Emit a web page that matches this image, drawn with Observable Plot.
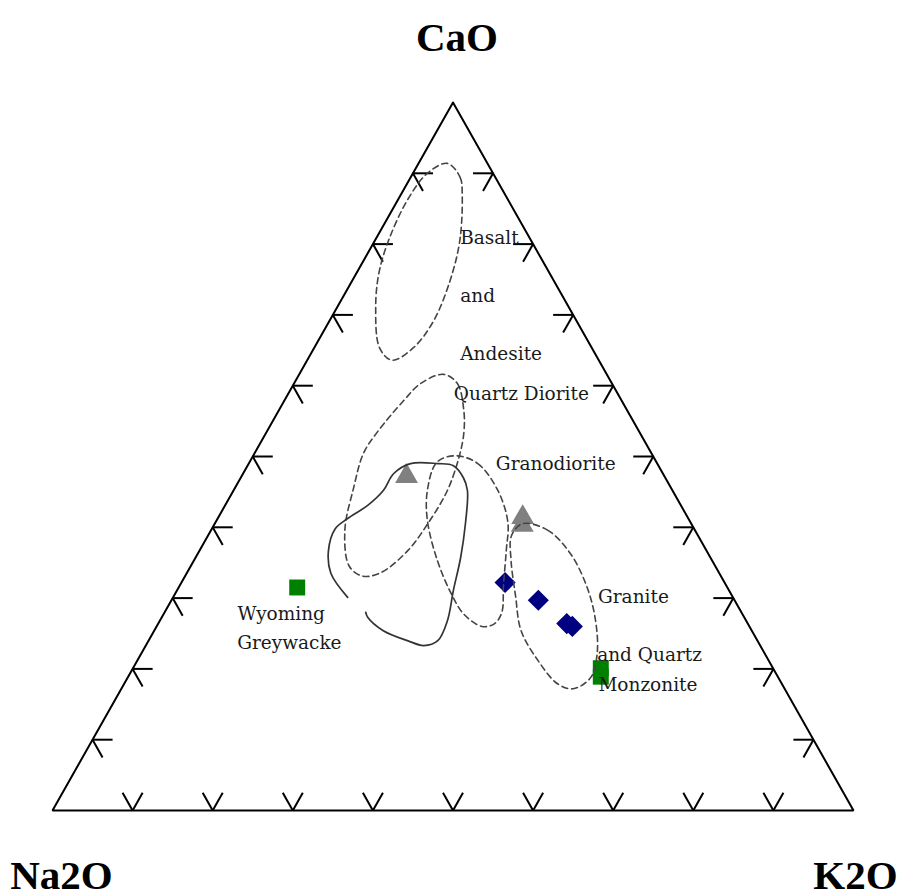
<!DOCTYPE html>
<html><head><meta charset="utf-8">
<script src="https://cdn.jsdelivr.net/npm/d3@7"></script>
<script src="https://cdn.jsdelivr.net/npm/@observablehq/plot@0.6"></script>
<style>html,body{margin:0;padding:0;background:#fff}</style>
</head><body><div id="chart"></div>
<script>
// All compositions are [CaO, Na2O, K2O] in percent
const apexLabels = ["CaO", "Na2O", "K2O"];
const tickValues = [10, 20, 30, 40, 50, 60, 70, 80, 90];

const grayTriangles = [[47.2, 32.2, 20.6], [41.4, 20.6, 38.0], [40.3, 21.2, 38.5]];
const blueDiamonds = [[32.2, 27.4, 40.4], [29.7, 24.5, 45.8], [26.4, 22.6, 51.0], [26.0, 22.1, 51.9]];
const greenSquares = [[31.5, 53.7, 14.8], [20.1, 21.5, 58.4], [18.9, 22.1, 59.0]];

const basaltAndesiteField = [
  [91.4, 5.0, 3.6], [89.4, 4.4, 6.2], [86.9, 5.4, 7.7], [80.5, 8.9, 10.6], [74.9, 12.9, 12.2],
  [69.2, 17.8, 13.0], [65.4, 22.2, 12.4], [63.6, 25.8, 10.6], [65.3, 26.5, 8.2], [71.1, 24.1, 4.8],
  [75.9, 21.3, 2.8], [80.5, 17.8, 1.7], [86.2, 12.6, 1.2], [90.0, 8.2, 1.8]
];
const quartzDioriteField = [
  [61.6, 20.4, 18.0], [60.3, 19.3, 20.4], [56.5, 20.4, 23.1], [53.3, 22.0, 24.7], [49.9, 24.3, 25.8],
  [45.2, 28.1, 26.7], [40.5, 32.9, 26.6], [36.7, 37.3, 26.0], [33.6, 42.2, 24.2], [33.1, 44.7, 22.2],
  [34.5, 45.7, 19.8], [39.6, 43.7, 16.7], [45.6, 39.6, 14.8], [50.4, 36.0, 13.6], [53.3, 32.9, 13.8],
  [57.9, 27.2, 14.9], [60.3, 23.9, 15.8]
];
const granodioriteField = [
  [50.1, 24.6, 25.3], [49.0, 22.4, 28.6], [45.2, 21.8, 33.0], [40.7, 22.8, 36.5], [36.7, 25.0, 38.3],
  [31.8, 27.8, 40.4], [28.0, 29.9, 42.1], [26.4, 31.6, 42.0], [26.0, 33.4, 40.6], [27.8, 34.8, 37.4],
  [30.7, 34.9, 34.4], [35.3, 34.3, 30.4], [41.0, 32.7, 26.3], [45.2, 30.6, 24.2], [49.2, 27.4, 23.4]
];
const graniteField = [
  [40.5, 21.1, 38.4], [39.6, 18.4, 42.0], [36.3, 17.2, 46.5], [31.5, 17.5, 51.0], [26.8, 18.8, 54.4],
  [22.2, 20.9, 56.9], [18.8, 23.4, 57.8], [17.2, 26.4, 56.4], [17.9, 28.0, 54.1], [21.2, 28.8, 50.0],
  [25.4, 28.8, 45.8], [30.4, 27.0, 42.6], [35.3, 25.1, 39.6], [38.8, 23.3, 37.9]
];
const sampleEnvelope = [
  [30.1, 48.1, 21.8], [33.5, 48.5, 18.0], [36.7, 47.2, 16.1], [39.8, 44.8, 15.4], [41.2, 42.6, 16.2],
  [43.1, 39.1, 17.8], [45.2, 36.1, 18.7], [47.6, 33.6, 18.8], [49.0, 30.8, 20.2], [49.0, 27.4, 23.6],
  [48.7, 25.6, 25.7], [47.0, 25.2, 27.8], [45.2, 25.6, 29.2], [40.5, 28.2, 31.3], [35.7, 31.2, 33.1],
  [31.1, 34.4, 34.5], [26.8, 37.3, 35.9], [24.0, 39.9, 36.1], [23.3, 42.0, 34.7], [24.0, 43.7, 32.3],
  [25.4, 46.0, 28.6], [27.3, 47.0, 25.7], [28.0, 46.9, 25.1]
];

const fieldLabels = ["Basalt", "and", "Andesite", "Quartz Diorite", "Granodiorite", "Granite", "and Quartz", "Monzonite", "Wyoming", "Greywacke"];
const fieldLabelPos = [
  [80.8, 8.7, 10.5], [72.6, 12.8, 14.6], [64.4, 16.9, 18.7], [58.8, 20.5, 20.7], [48.9, 20.2, 30.9],
  [30.2, 16.8, 53.0], [22.0, 21.0, 57.0], [17.7, 23.0, 59.3], [27.8, 63.0, 9.2], [23.7, 65.1, 11.2]
];

// ternary -> plane (x in [0,1], y = CaO fraction)
const tx = d => (d[2] + d[0] / 2) / 100;
const ty = d => d[0] / 100;

const vertices = [[100, 0, 0], [0, 100, 0], [0, 0, 100], [100, 0, 0]];
const L = 2.5;
const ticks = [];
for (const t of tickValues) {
  const b0 = [0, 100 - t, t];
  ticks.push({p: b0, q: [L, 100 - t, t - L]}, {p: b0, q: [L, 100 - t - L, t]});
  const l0 = [t, 100 - t, 0];
  ticks.push({p: l0, q: [t, 100 - t - L, L]}, {p: l0, q: [t - L, 100 - t, L]});
  const r0 = [t, 0, 100 - t];
  ticks.push({p: r0, q: [t, L, 100 - t - L]}, {p: r0, q: [t - L, L, 100 - t]});
}

const labels = fieldLabels.map((text, i) => ({text, p: fieldLabelPos[i]}));
const dashed = {x: tx, y: ty, curve: "catmull-rom-closed", stroke: "#444", strokeWidth: 1.6, strokeDasharray: "6,4"};
const axisFont = {fontFamily: "Liberation Serif", fontWeight: "bold", fontSize: 41, fill: "#000", lineAnchor: "bottom", textAnchor: "middle", letterSpacing: "-2px"};

const chart = Plot.plot({
  width: 902,
  height: 896,
  marginLeft: 52,
  marginRight: 49,
  marginTop: 102,
  marginBottom: 86,
  x: {domain: [0, 1], axis: null},
  y: {domain: [0, 1], axis: null},
  style: {background: "#fff"},
  marks: [
    Plot.line(vertices, {x: tx, y: ty, stroke: "#000", strokeWidth: 2, strokeLinejoin: "miter"}),
    Plot.link(ticks, {x1: d => tx(d.p), y1: d => ty(d.p), x2: d => tx(d.q), y2: d => ty(d.q), stroke: "#000", strokeWidth: 2}),
    Plot.dot(grayTriangles, {x: tx, y: ty, symbol: "triangle", r: 8.5, fill: "#808080", stroke: "none"}),
    Plot.dot(blueDiamonds, {x: tx, y: ty, symbol: "diamond2", r: 9.5, fill: "#000080", stroke: "none"}),
    Plot.dot(greenSquares, {x: tx, y: ty, symbol: "square", r: 9, fill: "#008000", stroke: "none"}),
    Plot.line(basaltAndesiteField, dashed),
    Plot.line(quartzDioriteField, dashed),
    Plot.line(granodioriteField, dashed),
    Plot.line(graniteField, dashed),
    Plot.line(sampleEnvelope, {x: tx, y: ty, curve: "catmull-rom", stroke: "#333", strokeWidth: 1.7}),
    Plot.text(labels, {x: d => tx(d.p), y: d => ty(d.p), text: "text", textAnchor: "start", lineAnchor: "middle", fontFamily: "DejaVu Serif", fontSize: 18.5, fill: "#1a1a1a"}),
    Plot.text([apexLabels[0]], {...axisFont, x: () => tx(vertices[0]), y: () => ty(vertices[0]), text: d => d, dx: 4, dy: -52}),
    Plot.text([apexLabels[1]], {...axisFont, x: () => tx(vertices[1]), y: () => ty(vertices[1]), text: d => d, dx: 9, dy: 78}),
    Plot.text([apexLabels[2]], {...axisFont, x: () => tx(vertices[2]), y: () => ty(vertices[2]), text: d => d, dx: 2, dy: 78})
  ]
});
document.getElementById("chart").appendChild(chart);
</script>
</body></html>
